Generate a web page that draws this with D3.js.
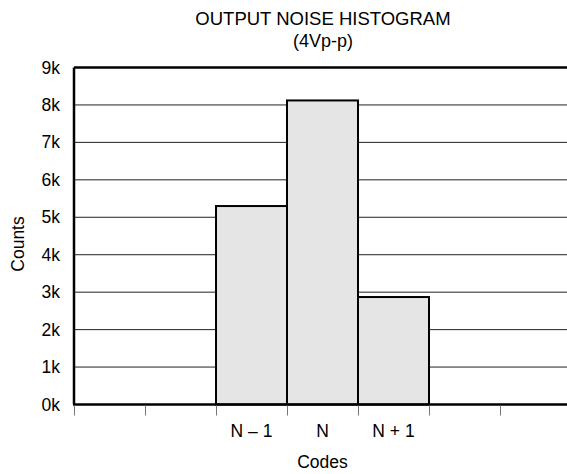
<!DOCTYPE html>
<html>
<head>
<meta charset="utf-8">
<script src="https://cdn.jsdelivr.net/npm/d3@7"></script>
<style>
  body { margin: 0; background: #fff; }
  text { font-family: "Liberation Sans", Arial, sans-serif; fill: #000; }
</style>
</head>
<body>
<div id="chart"></div>
<script>
// Data
const bins = ["", "", "N – 1", "N", "N + 1", "", ""];
const counts = [0, 0, 5300, 8120, 2870, 0, 0];
const yTicks = [0, 1000, 2000, 3000, 4000, 5000, 6000, 7000, 8000, 9000];

const W = 567, H = 474;
const margin = { top: 67.5, right: -4, bottom: 69.5, left: 74 };
const width = W - margin.left - margin.right;
const height = H - margin.top - margin.bottom;
const fs = "17.5px";

const svg = d3.select("#chart")
  .append("svg")
  .attr("width", W)
  .attr("height", H);

const g = svg.append("g")
  .attr("transform", `translate(${margin.left},${margin.top})`);

const xScale = d3.scaleLinear().domain([0, bins.length]).range([0, width]);
const yScale = d3.scaleLinear().domain([0, 9000]).range([height, 0]);

// gridlines
g.selectAll(".grid")
  .data(yTicks.slice(1, -1))
  .enter()
  .append("line")
  .attr("x1", 0)
  .attr("x2", width)
  .attr("y1", (d) => yScale(d))
  .attr("y2", (d) => yScale(d))
  .attr("stroke", "#222")
  .attr("stroke-width", 1);

// bars
g.selectAll(".bar")
  .data(counts.map((c, i) => ({ c, i })).filter((d) => d.c > 0))
  .enter()
  .append("rect")
  .attr("x", (d) => xScale(d.i))
  .attr("y", (d) => yScale(d.c))
  .attr("width", xScale(1) - xScale(0))
  .attr("height", (d) => height - yScale(d.c))
  .attr("fill", "#e5e5e5")
  .attr("stroke", "#000")
  .attr("stroke-width", 2);

// frame: top, left, bottom
g.append("line").attr("x1", 0).attr("x2", width).attr("y1", 0).attr("y2", 0)
  .attr("stroke", "#000").attr("stroke-width", 2.5);
g.append("line").attr("x1", 0).attr("x2", 0).attr("y1", 0).attr("y2", height)
  .attr("stroke", "#000").attr("stroke-width", 2.5);
g.append("line").attr("x1", -1).attr("x2", width).attr("y1", height).attr("y2", height)
  .attr("stroke", "#000").attr("stroke-width", 2.5);

// x axis ticks at bin edges
const xAxis = d3.axisBottom(xScale)
  .tickValues(d3.range(0, bins.length + 1))
  .tickSize(10)
  .tickFormat("");
const xg = g.append("g")
  .attr("transform", `translate(0,${height + 1})`)
  .call(xAxis);
xg.select(".domain").remove();
xg.selectAll(".tick line").attr("stroke", "#777").attr("stroke-width", 1);

// category labels at bin centers
g.selectAll(".xlabel")
  .data(bins.map((b, i) => ({ b, i })).filter((d) => d.b))
  .enter()
  .append("text")
  .attr("x", (d) => xScale(d.i + 0.5))
  .attr("y", 436.5 - margin.top)
  .attr("text-anchor", "middle")
  .style("font-size", fs)
  .text((d) => d.b);

// y axis
const yAxis = d3.axisLeft(yScale)
  .tickValues(yTicks)
  .tickSize(0)
  .tickPadding(14)
  .tickFormat((d) => d / 1000 + "k");
const yg = g.append("g").call(yAxis);
yg.select(".domain").remove();
yg.selectAll("text")
  .style("font-size", fs)
  .style("font-family", '"Liberation Sans", Arial, sans-serif');

// titles
svg.append("text")
  .attr("x", 323).attr("y", 25)
  .attr("text-anchor", "middle")
  .style("font-size", "18.5px")
  .text("OUTPUT NOISE HISTOGRAM");
svg.append("text")
  .attr("x", 323).attr("y", 47)
  .attr("text-anchor", "middle")
  .style("font-size", "18px")
  .text("(4Vp-p)");

svg.append("text")
  .attr("x", 322.5).attr("y", 467.5)
  .attr("text-anchor", "middle")
  .style("font-size", fs)
  .text("Codes");

svg.append("text")
  .attr("transform", "translate(24,244) rotate(-90)")
  .attr("text-anchor", "middle")
  .style("font-size", fs)
  .text("Counts");
</script>
</body>
</html>
